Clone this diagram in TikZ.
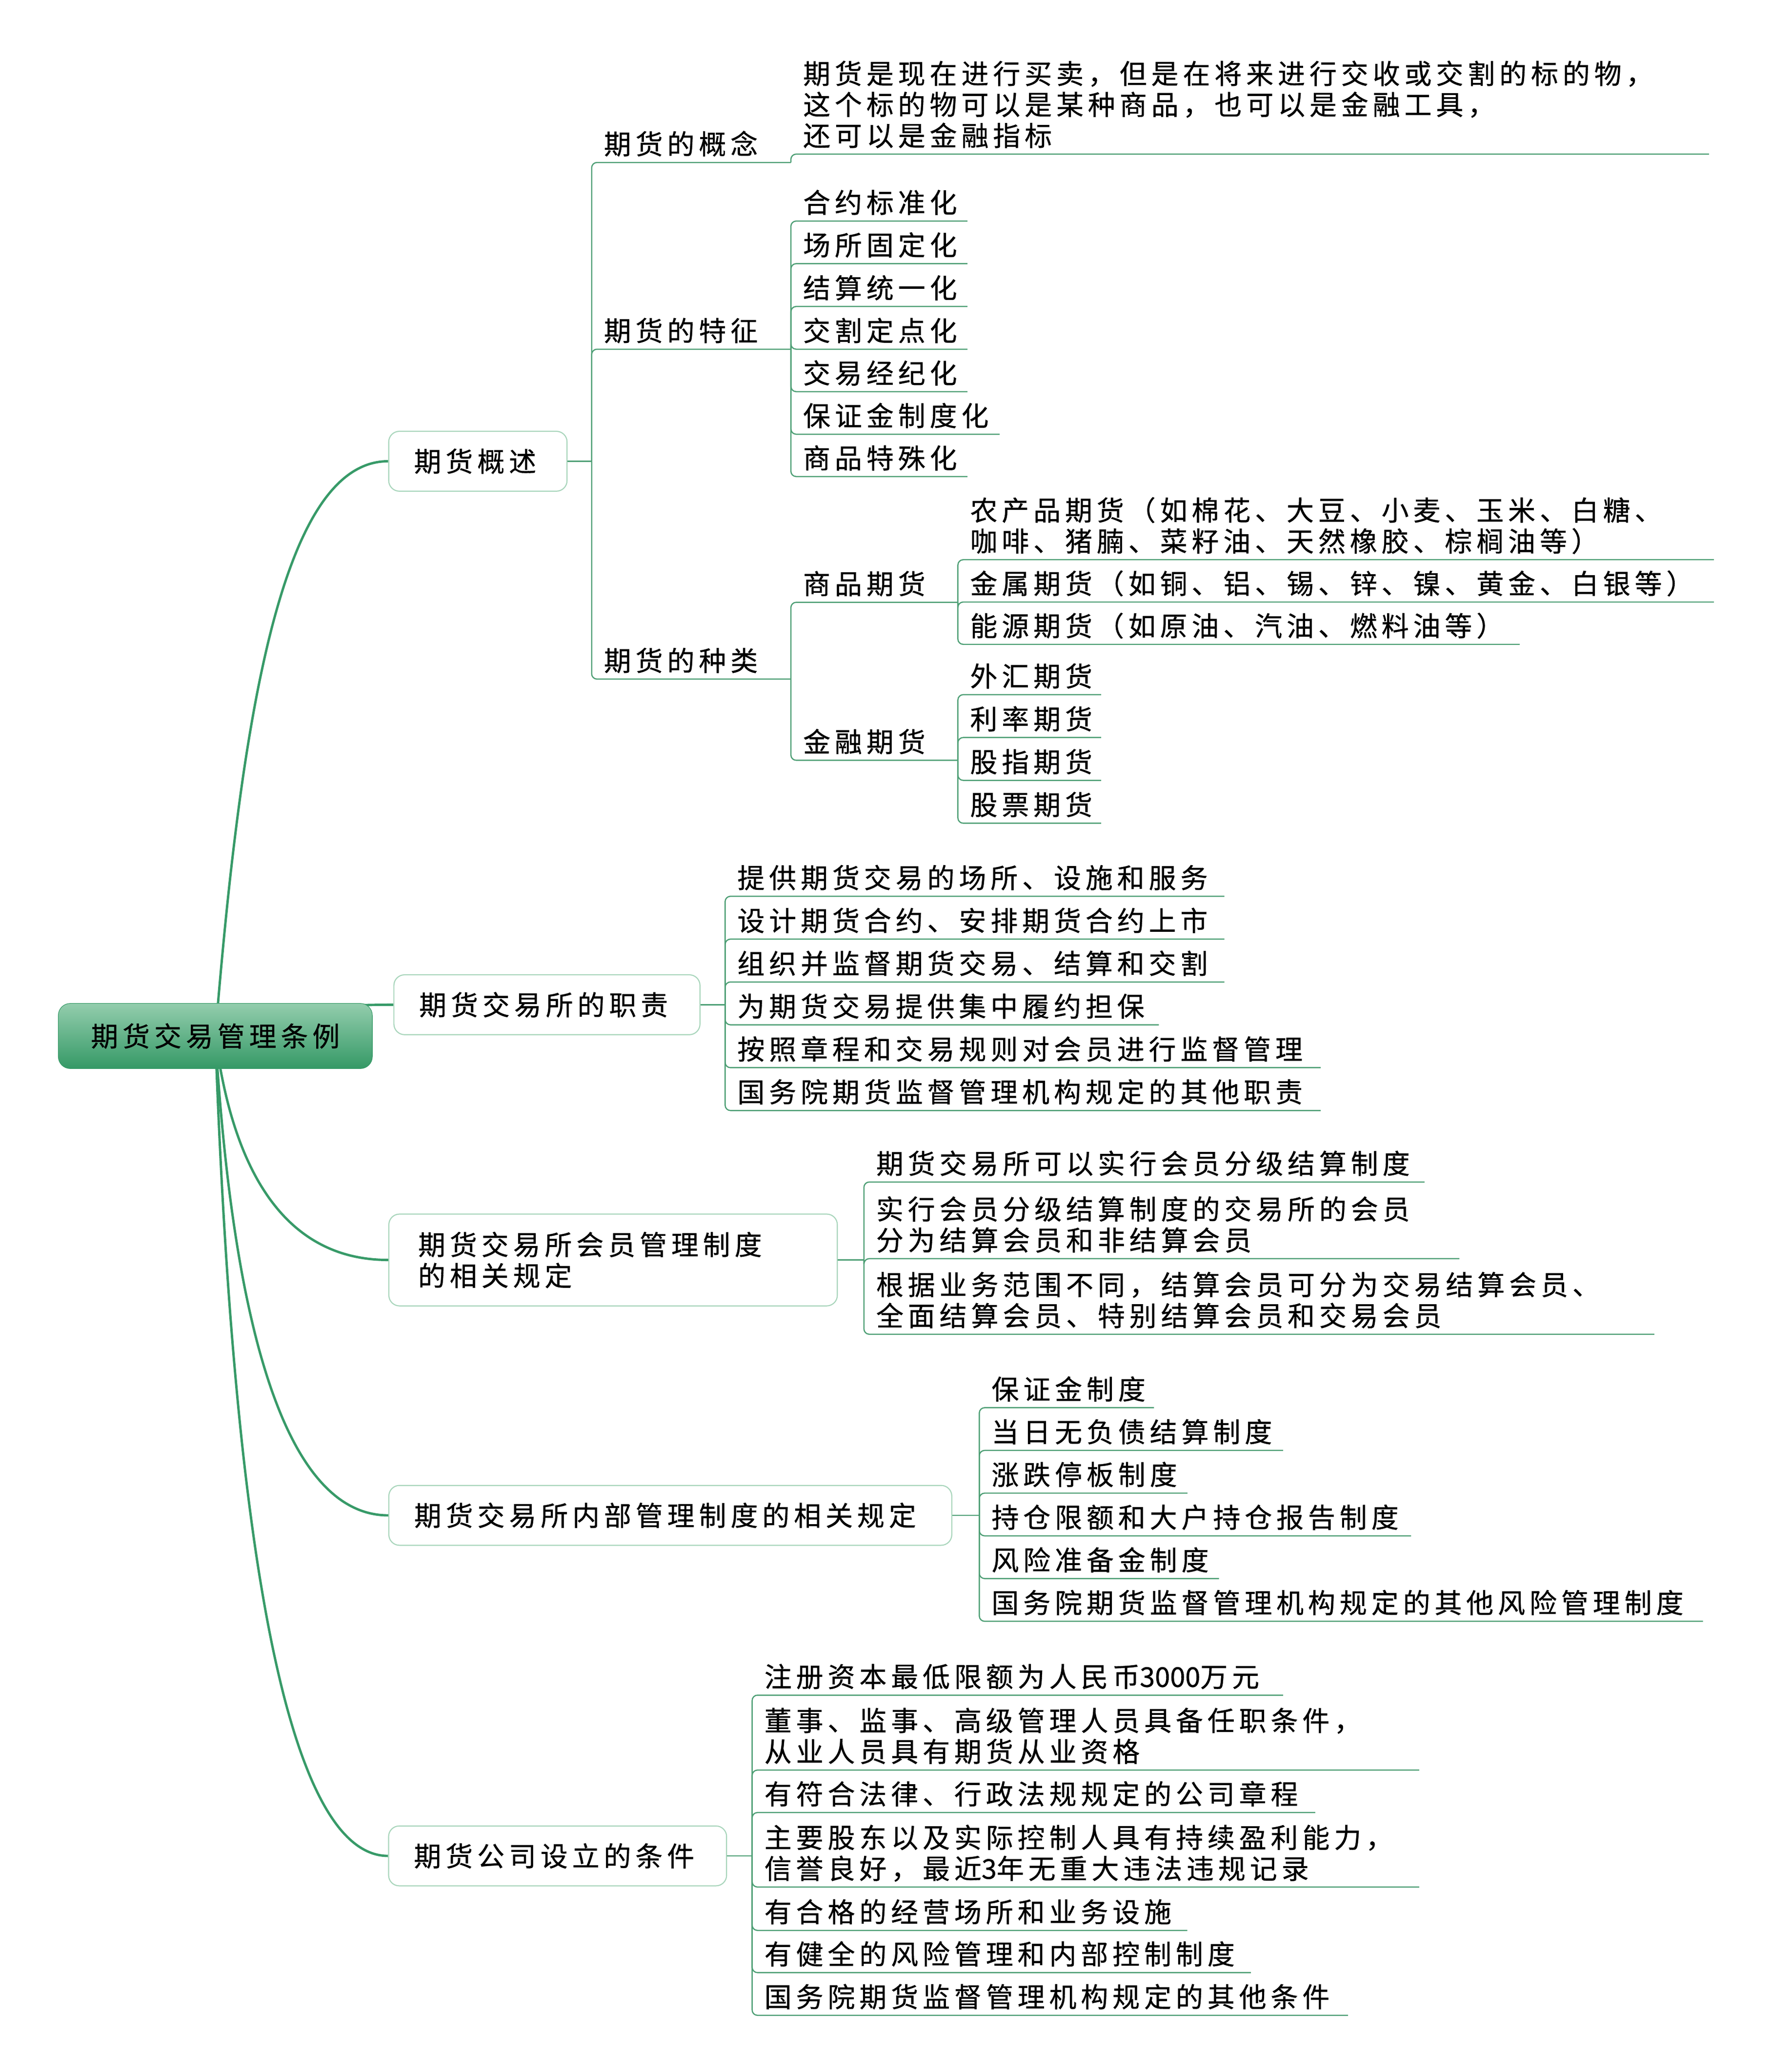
\documentclass[tikz,border=0pt]{standalone}
\usepackage{fontspec}
\newfontfamily\cjk[LetterSpace=16, FakeBold=0.6]{Noto Sans CJK SC}
\newfontfamily\cjknum[FakeBold=0.6]{Noto Sans CJK SC}
\usetikzlibrary{backgrounds}
\definecolor{branchgreen}{HTML}{379A68}
\definecolor{rootlight}{HTML}{93CDAD}
\definecolor{rootdark}{HTML}{359966}
\definecolor{boxline}{HTML}{A8D5BB}
\definecolor{subline}{HTML}{4E9F75}
\newcommand\ulstrut{\rule[-6pt]{0pt}{6pt}}

\begin{document}
\begin{tikzpicture}
        [
          x=1pt, y=-1pt,
          every node/.style={font=\cjk\fontsize{20.5}{23.3}\selectfont},
          root/.style={draw=rootdark, rounded corners=9pt, top color=rootlight, middle color=rootdark, bottom color=rootdark, minimum width=236pt, minimum height=49pt, inner sep=0pt},
          topic/.style={draw=boxline, line width=0.8pt, fill=white, rounded corners=8pt, anchor=west, align=left, inner xsep=19pt, inner ysep=0pt, minimum height=45pt},
          leaf/.style={anchor=south west, xshift=9pt, inner sep=0pt, align=left},
          branch/.style={draw=branchgreen, line width=1.8pt},
          sub/.style={draw=subline, line width=0.9pt, rounded corners=4pt}
        ]
        \useasboundingbox (0,0) rectangle (1330,1557);
        % root and main topics
        \node [root] (root) at (161.8,778.5) {期货交易管理条例};
        \node [topic, text width=96pt] (gs) at (291.7,346.6) {期货概述};
        \node [topic, text width=192pt] (zz) at (295.6,755) {期货交易所的职责};
        \node [topic, text width=293pt, inner xsep=22pt, minimum height=69pt] (hy) at (291.8,946.8) {期货交易所会员管理制度\\的相关规定};
        \node [topic, text width=385pt] (nb) at (291.8,1138.7) {期货交易所内部管理制度的相关规定};
        \node [topic, text width=216pt] (gsl) at (291.6,1394.6) {期货公司设立的条件};
        % main branches
        \begin{scope}[on background layer]
        \draw [branch] (root.center) .. controls +(20,-250) and +(-78,0) .. (gs.west);
        \draw [branch] (root.center) .. controls +(13,-14) and +(-80,0) .. (zz.west);
        \draw [branch] (root.center) .. controls +(13,101) and +(-78,0) .. (hy.west);
        \draw [branch] (root.center) .. controls +(13,216) and +(-78,0) .. (nb.west);
        \draw [branch] (root.center) .. controls +(13,370) and +(-78,0) .. (gsl.west);
        \end{scope}
        % gs
        \coordinate (jgs) at (444.6,346.6);
        \draw [sub] (gs.east) -- (jgs);
        \foreach \n/\y/\t in {gn/122.1/期货的概念, tz/262.4/期货的特征, zl/510.3/期货的种类} {
            \node [leaf] (\n) at (444.6,\y) {\t\ulstrut};
            \coordinate (j\n) at (594.3,\y);
            \draw [sub] (jgs) |- (j\n);
        }
        % gn
        \node [leaf, text width=680.5pt] (gn1) at (594.3,115.8) {期货是现在进行买卖，但是在将来进行交收或交割的标的物，\\这个标的物可以是某种商品，也可以是金融工具，\\还可以是金融指标\ulstrut};
        \draw [sub] (jgn) |- (gn1.south east);
        % tz
        \foreach \n/\y/\e/\t in {tz1/166.1/726.5/合约标准化, tz2/198.1/726.5/场所固定化, tz3/230.3/726.5/结算统一化, tz4/262.4/726.5/交割定点化, tz5/294.3/726.5/交易经纪化, tz6/326.3/750.7/保证金制度化, tz7/358.1/726.5/商品特殊化} {
            \pgfmathsetmacro\w{\e-603.3}
            \node [leaf, text width=\w pt] (\n) at (594.3,\y) {\t\ulstrut};
            \draw [sub] (jtz) |- (\n.south east);
        }
        % zl
        \foreach \n/\y/\t in {sp/452.6/商品期货, jr/571.3/金融期货} {
            \node [leaf] (\n) at (594.3,\y) {\t\ulstrut};
            \coordinate (j\n) at (719.8,\y);
            \draw [sub] (jzl) |- (j\n);
        }
        % sp
        \foreach \n/\y/\e/\t in {sp1/420.6/1287.5/{农产品期货（如棉花、大豆、小麦、玉米、白糖、\\咖啡、猪腩、菜籽油、天然橡胶、棕榈油等）}, sp2/452.4/1287.5/金属期货（如铜、铝、锡、锌、镍、黄金、白银等）, sp3/484.2/1141.5/能源期货（如原油、汽油、燃料油等）} {
            \pgfmathsetmacro\w{\e-728.8}
            \node [leaf, text width=\w pt] (\n) at (719.8,\y) {\t\ulstrut};
            \draw [sub] (jsp) |- (\n.south east);
        }
        % jr
        \foreach \n/\y/\t in {jr1/522.0/外汇期货, jr2/554.2/利率期货, jr3/586.4/股指期货, jr4/618.6/股票期货} {
            \node [leaf, text width=98.2pt] (\n) at (719.8,\y) {\t\ulstrut};
            \draw [sub] (jjr) |- (\n.south east);
        }
        % zz
        \coordinate (jzz) at (544.9,755);
        \draw [sub] (zz.east) -- (jzz);
        \foreach \n/\y/\e/\t in {zz1/673.5/919.6/提供期货交易的场所、设施和服务, zz2/705.7/919.6/设计期货合约、安排期货合约上市, zz3/737.9/919.6/组织并监督期货交易、结算和交割, zz4/770.1/870.4/为期货交易提供集中履约担保, zz5/802.3/992/按照章程和交易规则对会员进行监督管理, zz6/834.5/992/国务院期货监督管理机构规定的其他职责} {
            \pgfmathsetmacro\w{\e-553.9}
            \node [leaf, text width=\w pt] (\n) at (544.9,\y) {\t\ulstrut};
            \draw [sub] (jzz) |- (\n.south east);
        }
        % hy
        \coordinate (jhy) at (649.2,946.8);
        \draw [sub] (hy.east) -- (jhy);
        \foreach \n/\y/\e/\t in {hy1/888.2/1070/期货交易所可以实行会员分级结算制度, hy2/945.8/1096.3/{实行会员分级结算制度的交易所的会员\\分为结算会员和非结算会员}, hy3/1002.6/1242.7/{根据业务范围不同，结算会员可分为交易结算会员、\\全面结算会员、特别结算会员和交易会员}} {
            \pgfmathsetmacro\w{\e-658.2}
            \node [leaf, text width=\w pt] (\n) at (649.2,\y) {\t\ulstrut};
            \draw [sub] (jhy) |- (\n.south east);
        }
        % nb
        \coordinate (jnb) at (735.9,1138.7);
        \draw [sub] (nb.east) -- (jnb);
        \foreach \n/\y/\e/\t in {nb1/1057.8/866.8/保证金制度, nb2/1089.9/963.7/当日无负债结算制度, nb3/1122.0/891.9/涨跌停板制度, nb4/1154.1/1060/持仓限额和大户持仓报告制度, nb5/1186.2/915.6/风险准备金制度, nb6/1218.3/1279.3/国务院期货监督管理机构规定的其他风险管理制度} {
            \pgfmathsetmacro\w{\e-744.9}
            \node [leaf, text width=\w pt] (\n) at (735.9,\y) {\t\ulstrut};
            \draw [sub] (jnb) |- (\n.south east);
        }
        % gsl
        \coordinate (jgsl) at (565.2,1394.6);
        \draw [sub] (gsl.east) -- (jgsl);
        \foreach \n/\y/\e/\t in {gsl1/1273.8/963.7/{注册资本最低限额为人民币{\cjknum 3000}万元}, gsl2/1330.1/1066/{董事、监事、高级管理人员具备任职条件，\\从业人员具有期货从业资格}, gsl3/1362/987.9/有符合法律、行政法规规定的公司章程, gsl4/1418/1066/{主要股东以及实际控制人具有持续盈利能力，\\信誉良好，最近{\cjknum 3}年无重大违法违规记录}, gsl5/1450.6/891.8/有合格的经营场所和业务设施, gsl6/1482.3/939.5/有健全的风险管理和内部控制制度, gsl7/1514.4/1012.6/国务院期货监督管理机构规定的其他条件} {
            \pgfmathsetmacro\w{\e-574.2}
            \node [leaf, text width=\w pt] (\n) at (565.2,\y) {\t\ulstrut};
            \draw [sub] (jgsl) |- (\n.south east);
        }
\end{tikzpicture}
\end{document}
